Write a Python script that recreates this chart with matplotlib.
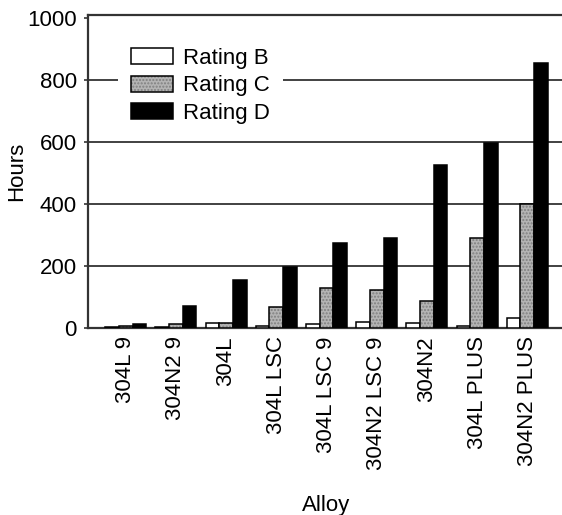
import matplotlib
matplotlib.use("Agg")
import matplotlib.pyplot as plt
import numpy as np
from matplotlib.patches import Patch
from matplotlib.legend_handler import HandlerTuple

alloys = ["304L 9", "304N2 9", "304L", "304L LSC", "304L LSC 9",
          "304N2 LSC 9", "304N2", "304L PLUS", "304N2 PLUS"]
rating_b = [2, 4, 17, 5, 14, 18, 15, 8, 33]
rating_c = [8, 12, 17, 67, 130, 122, 87, 292, 400]
rating_d = [12, 72, 155, 198, 275, 290, 527, 598, 855]
yticks = [0, 200, 400, 600, 800, 1000]

plt.rcParams['font.family'] = ['Liberation Sans', 'DejaVu Sans']
plt.rcParams['font.size'] = 16

fig = plt.figure(figsize=(5.62, 5.15), dpi=100)
ax = fig.add_axes([88/562, 187/515, (565-88)/562, 313/515])

x = np.arange(len(alloys))
w = 0.273
ec = 'black'
lw = 1.1

ax.bar(x - w, rating_b, w, color='white', edgecolor=ec, linewidth=lw, zorder=3)
ax.bar(x, rating_c, w, color='#b4b4b4', edgecolor='#808080', hatch='.....', linewidth=0, zorder=3)
ax.bar(x, rating_c, w, color='none', edgecolor=ec, linewidth=lw, zorder=4)
ax.bar(x + w, rating_d, w, color='black', edgecolor=ec, linewidth=lw, zorder=3)

ax.set_xlim(-0.75, 8.75)
ax.set_ylim(0, 1010)
ax.set_yticks(yticks)
ax.set_yticklabels([str(v) for v in yticks])
ax.set_xticks(x)
ax.set_xticklabels(alloys, rotation=90, va='top', ha='center')
ax.tick_params(axis='x', length=0, pad=6)
ax.tick_params(axis='y', length=3, width=1.2, pad=5, color='#333333')

for v in [200, 400, 600, 800]:
    ax.axhline(v, color='#333333', linewidth=1.3, zorder=1)

for s in ['left', 'bottom', 'top']:
    ax.spines[s].set_linewidth(1.6)
    ax.spines[s].set_color('#333333')
ax.spines['right'].set_visible(False)

ax.set_xlabel('Alloy', labelpad=18)
ax.set_ylabel('Hours')
ax.yaxis.set_label_coords(-0.128, 0.5)

hb = Patch(facecolor='white', edgecolor=ec, linewidth=lw)
hc1 = Patch(facecolor='#b4b4b4', edgecolor='#808080', hatch='.....', linewidth=0)
hc2 = Patch(facecolor='none', edgecolor=ec, linewidth=lw)
hd = Patch(facecolor='black', edgecolor=ec, linewidth=lw)
leg = ax.legend([hb, (hc1, hc2), hd], ['Rating B', 'Rating C', 'Rating D'],
                handler_map={tuple: HandlerTuple(ndivide=1, pad=0)},
                loc='upper left', bbox_to_anchor=(0.062, 0.938),
                frameon=True, facecolor='white', edgecolor='none', framealpha=1,
                fancybox=False, handlelength=1.9, handleheight=0.75,
                handletextpad=0.45, labelspacing=0.3, borderpad=0.6,
                borderaxespad=0)
leg.set_zorder(5)

fig.savefig('out.png', dpi=100)
